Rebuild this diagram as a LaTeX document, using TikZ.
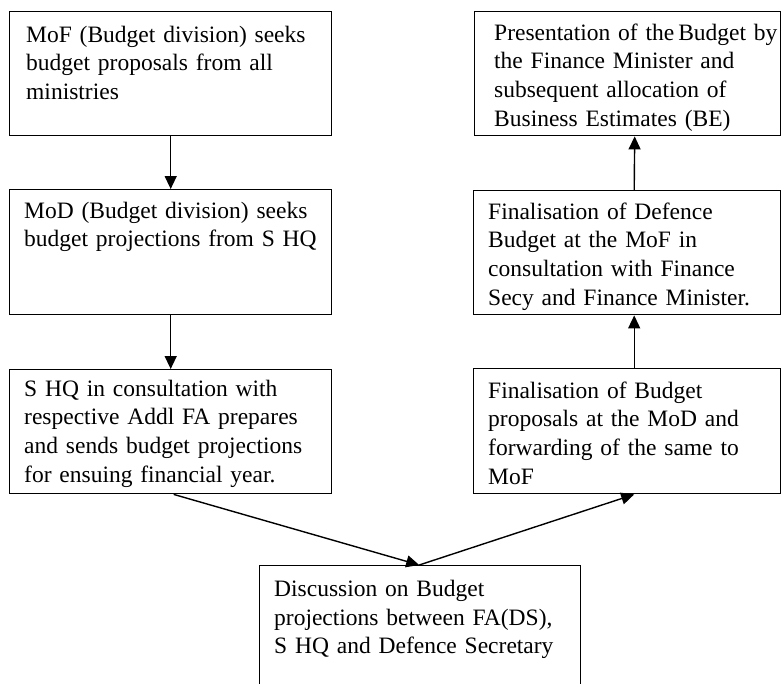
\documentclass[tikz,border=0pt]{standalone}
\usepackage{fontspec}
\setmainfont{Liberation Serif}
\usetikzlibrary{arrows.meta}
\begin{document}
\begin{tikzpicture}[x=1pt,y=-1pt,
  box/.style={draw, line width=1.4pt, inner sep=0pt, anchor=north west},
  txt/.style={anchor=north west, inner sep=0pt, align=left, text width=310pt,
              font=\fontsize{23.5}{28.7}\selectfont},
  arr/.style={line width=1.4pt, -{Triangle[width=12pt,length=13pt]}}]
\useasboundingbox (0,0) rectangle (784,683);
\clip (0,0) rectangle (784,683);

% left column
\node[box, minimum width=322pt, minimum height=124pt] (b1) at (9,11) {};
\node[txt] (t1) at ([xshift=17pt,yshift=-11pt]b1.north west)
  {\strut MoF (Budget division) seeks\\budget proposals from all\\ministries};
\node[box, minimum width=322pt, minimum height=125pt] (b2) at (9,189) {};
\node[txt] (t2) at ([xshift=15pt,yshift=-9pt]b2.north west)
  {\strut MoD (Budget division) seeks\\budget projections from S HQ};
\node[box, minimum width=322pt, minimum height=124pt] (b3) at (9,369) {};
\node[txt] (t3) at ([xshift=15pt,yshift=-7pt]b3.north west)
  {\strut S HQ in consultation with\\respective Addl FA prepares\\and sends budget projections\\for ensuing financial year.};

% right column
\node[box, minimum width=306pt, minimum height=124pt] (r1) at (474,11) {};
\node[txt] (u1) at ([xshift=20pt,yshift=-9pt]r1.north west)
  {\strut Presentation of the\,Budget by\\the Finance Minister and\\subsequent allocation of\\Business Estimates (BE)};
\node[box, minimum width=307pt, minimum height=124pt] (r2) at (473,190) {};
\node[txt] (u2) at ([xshift=15pt,yshift=-9pt]r2.north west)
  {\strut Finalisation of Defence\\Budget at the MoF in\\consultation with Finance\\Secy and Finance Minister.};
\node[box, minimum width=307pt, minimum height=125pt] (r3) at (473,368) {};
\node[txt] (u3) at ([xshift=15pt,yshift=-10pt]r3.north west)
  {\strut Finalisation of Budget\\proposals at the MoD and\\forwarding of the same to\\MoF};

% discussion box, running off the lower edge
\node[box, minimum width=321pt, minimum height=160pt] (d) at (259,565) {};
\node[txt] (dt) at ([xshift=15pt,yshift=-11pt]d.north west)
  {\strut Discussion on Budget\\projections between FA(DS),\\S HQ and Defence Secretary};

% connectors
\draw[arr] (b1.south) -- (b2.north);
\draw[arr] (b2.south) -- (b3.north);
\draw[arr] ([xshift=7pt]r2.north) -- ([xshift=7pt]r1.south);
\draw[arr] ([xshift=7pt]r3.north) -- ([xshift=7pt]r2.south);
\draw[arr] ([xshift=3pt]b3.south) -- ([xshift=-1pt]d.north);
\draw[arr] ([xshift=-1pt]d.north) -- ([xshift=7pt]r3.south);
\end{tikzpicture}
\end{document}
